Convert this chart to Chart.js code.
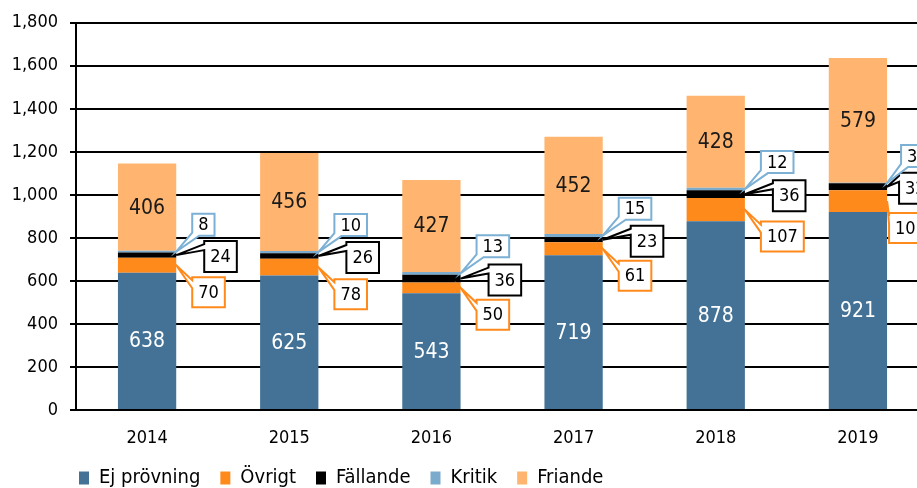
<!DOCTYPE html>
<html>
<head>
<meta charset="utf-8">
<script src="https://cdn.jsdelivr.net/npm/chart.js@4"></script>
<style>
  html, body { margin: 0; padding: 0; background: #fff; overflow: hidden; }
  #wrap { width: 940px; height: 506px; }
</style>
</head>
<body>
<div id="wrap"><canvas id="chart"></canvas></div>
<script>
// years and the five series (stacked bottom to top)
const years = ["2014", "2015", "2016", "2017", "2018", "2019"];
const ejProvning = [638, 625, 543, 719, 878, 921];
const ovrigt = [70, 78, 50, 61, 107, 101];
const fallande = [24, 26, 36, 23, 36, 32];
const kritik = [8, 10, 13, 15, 12, 3];
const friande = [406, 456, 427, 452, 428, 579];
const yTicks = [0, 200, 400, 600, 800, 1000, 1200, 1400, 1600, 1800];

const FONT = "'Liberation Sans Narrow', 'DejaVu Sans Condensed', 'Noto Sans', sans-serif";

// callout boxes for the thin segments (lastDx = offset used for the right-most bar)
const callouts = {
  1: { color: "#ff8a1c", dx: 16, lastDx: 2, dy: 12, h: 30, side: "below" },
  2: { color: "#000000", dx: 28, lastDx: 12, dy: -14, h: 31, side: "right" },
  3: { color: "#7cb0d4", dx: 16, lastDx: 14, dy: -16, h: 22, side: "above" }
};

const labelPlugin = {
  id: "labels",
  afterDatasetsDraw(chart) {
    const ctx = chart.ctx;
    ctx.save();
    ctx.textAlign = "center";
    ctx.textBaseline = "middle";
    // values inside the big segments
    ctx.font = "21px " + FONT;
    [0, 4].forEach(di => {
      const meta = chart.getDatasetMeta(di);
      meta.data.forEach((bar, j) => {
        ctx.fillStyle = di === 0 ? "#ffffff" : "#1a1a1a";
        ctx.fillText(chart.data.datasets[di].data[j], bar.x, (bar.y + bar.base) / 2 + 1);
      });
    });
    // callouts
    ctx.font = "18px " + FONT;
    Object.keys(callouts).forEach(k => {
      const di = +k, c = callouts[k];
      const meta = chart.getDatasetMeta(di);
      meta.data.forEach((bar, j) => {
        const txt = String(chart.data.datasets[di].data[j]);
        const tipX = bar.x + bar.width / 2;
        const tipY = (bar.y + bar.base) / 2;
        const w = ctx.measureText(txt).width + 12;
        const h = c.h;
        const bx = tipX + (j === meta.data.length - 1 ? c.lastDx : c.dx);
        const by = c.side === "above" ? tipY + c.dy - h : tipY + c.dy;
        ctx.beginPath();
        if (c.side === "above") {
          ctx.moveTo(bx, by);
          ctx.lineTo(bx + w, by);
          ctx.lineTo(bx + w, by + h);
          ctx.lineTo(bx + 7, by + h);
          ctx.lineTo(tipX, tipY);
          ctx.lineTo(bx, by + h - 3);
        } else {
          const a = 3;
          const b = c.side === "right" ? 9 : 11;
          ctx.moveTo(bx, by);
          ctx.lineTo(bx + w, by);
          ctx.lineTo(bx + w, by + h);
          ctx.lineTo(bx, by + h);
          ctx.lineTo(bx, by + b);
          ctx.lineTo(tipX, tipY);
          ctx.lineTo(bx, by + a);
        }
        ctx.closePath();
        ctx.fillStyle = "#ffffff";
        ctx.fill();
        ctx.lineWidth = 2;
        ctx.strokeStyle = c.color;
        ctx.stroke();
        ctx.fillStyle = "#000000";
        ctx.fillText(txt, bx + w / 2, by + h / 2 + 1);
      });
    });
    ctx.restore();
  }
};

// nudge legend like the reference
const legendShift = {
  id: "legendShift",
  afterLayout(chart) {
    chart.legend.left += 59;
    chart.legend.right += 59;
    chart.legend.top -= 8;
    chart.legend.bottom -= 8;
  }
};

new Chart(document.getElementById("chart").getContext("2d"), {
  type: "bar",
  data: {
    labels: years,
    datasets: [
      { label: "Ej prövning", data: ejProvning, backgroundColor: "#437296" },
      { label: "Övrigt", data: ovrigt, backgroundColor: "#ff8a1c" },
      { label: "Fällande", data: fallande, backgroundColor: "#000000" },
      { label: "Kritik", data: kritik, backgroundColor: "#7aaacc" },
      { label: "Friande", data: friande, backgroundColor: "#ffb56f" }
    ]
  },
  options: {
    responsive: true,
    maintainAspectRatio: false,
    animation: false,
    layout: { padding: { top: 21, right: 11, left: 0, bottom: 0 } },
    datasets: { bar: { categoryPercentage: 1, barPercentage: 0.41 } },
    scales: {
      x: {
        stacked: true,
        grid: { display: false, drawTicks: false },
        border: { color: "#000", width: 2 },
        ticks: { color: "#000", font: { size: 18, family: FONT }, padding: 18 },
        afterFit(s) { s.height = 46; }
      },
      y: {
        stacked: true,
        min: 0,
        max: 1800,
        afterBuildTicks(s) { s.ticks = yTicks.map(v => ({ value: v })); },
        grid: { color: "#000", lineWidth: 2, tickLength: 6 },
        border: { color: "#000", width: 2 },
        ticks: {
          color: "#000",
          font: { size: 18, family: FONT },
          padding: 12,
          callback: v => v.toLocaleString("en-US")
        },
        afterFit(s) { s.width = 76; }
      }
    },
    plugins: {
      legend: {
        position: "bottom",
        align: "start",
        labels: {
          boxWidth: 10,
          boxHeight: 13,
          color: "#000",
          padding: 20,
          font: { size: 20, family: FONT }
        }
      },
      tooltip: { enabled: false }
    }
  },
  plugins: [labelPlugin, legendShift]
});
</script>
</body>
</html>
